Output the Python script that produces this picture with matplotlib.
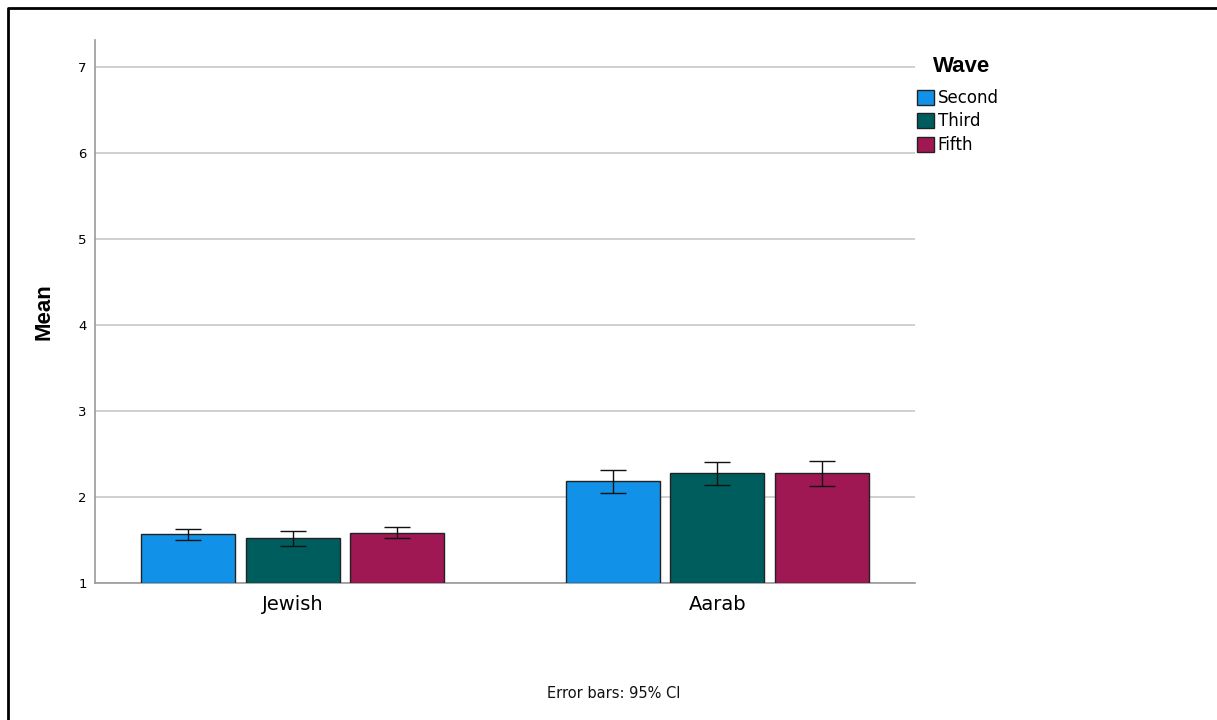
import numpy as np
import matplotlib
matplotlib.use('Agg')
import matplotlib.pyplot as plt
from matplotlib.lines import Line2D

# data
groups = ['Jewish', 'Aarab']
waves = ['Second', 'Third', 'Fifth']
colors = ['#1192E8', '#005D5D', '#9F1853']

means = {
    'Second': [1.566, 2.18],
    'Third': [1.52, 2.28],
    'Fifth': [1.58, 2.28],
}
ci_low = {
    'Second': [1.50, 2.05],
    'Third': [1.434, 2.14],
    'Fifth': [1.52, 2.13],
}
ci_high = {
    'Second': [1.628, 2.31],
    'Third': [1.605, 2.41],
    'Fifth': [1.647, 2.42],
}
yticks = [1, 2, 3, 4, 5, 6, 7]

plt.rcParams['font.family'] = ['DejaVu Sans']

fig = plt.figure(figsize=(12.17, 7.2), dpi=100)
W, H = 1217, 720
ax = fig.add_axes([95 / W, 1 - 583 / H, 820 / W, 543 / H])

x = np.arange(len(groups))
width = 0.221
pitch = 0.246
for i, (w, c) in enumerate(zip(waves, colors)):
    pos = x + (i - 1) * pitch
    m = np.array(means[w])
    lo = m - np.array(ci_low[w])
    hi = np.array(ci_high[w]) - m
    ax.bar(pos, m - 1, bottom=1, width=width, color=c, edgecolor='#222222',
           linewidth=1.0, label=w, zorder=3)
    ax.errorbar(pos, m, yerr=[lo, hi], fmt='none', ecolor='#111111',
                elinewidth=1.0, capsize=9.5, capthick=1.0, zorder=4)

ax.set_xlim(-0.465, 1.465)
ax.set_ylim(1, 7.31)
ax.set_yticks(yticks)
ax.set_yticklabels([str(t) for t in yticks], fontsize=9.5)
ax.set_xticks(x)
ax.set_xticklabels(groups, fontsize=14)
ax.tick_params(axis='x', length=0, pad=9)
ax.tick_params(axis='y', length=0, pad=6)
ax.grid(axis='y', color='#c8c8c8', linewidth=1.2, zorder=0)
for s in ['top', 'right']:
    ax.spines[s].set_visible(False)
ax.spines['left'].set_color('#999999')
ax.spines['bottom'].set_color('#999999')
ax.spines['left'].set_linewidth(1.2)
ax.spines['bottom'].set_linewidth(1.2)
ax.set_ylabel('Mean', fontsize=16, fontweight='bold', family='Liberation Sans')
ax.yaxis.set_label_coords(-0.049, 0.5)

leg = fig.legend(*ax.get_legend_handles_labels(), loc='upper left',
                 bbox_to_anchor=(917 / W, 1 - 89 / H), frameon=False,
                 fontsize=12, handlelength=1.0, handleheight=1.0,
                 handletextpad=0.25, labelspacing=0.33, borderpad=0,
                 borderaxespad=0)
fig.text(933 / W, 1 - 67 / H, 'Wave', ha='left', va='center', fontsize=16,
         fontweight='bold', family='Liberation Sans')

fig.text(614 / W, 1 - 693 / H, 'Error bars: 95% CI', ha='center', va='center',
         fontsize=10.5, color='#111111')

# outer frame (left and top edges)
fig.add_artist(Line2D([8 / W, 8 / W, 1.0], [0.0, 1 - 8 / H, 1 - 8 / H],
                      transform=fig.transFigure, color='black', linewidth=2))

fig.savefig('out.png', dpi=100)
